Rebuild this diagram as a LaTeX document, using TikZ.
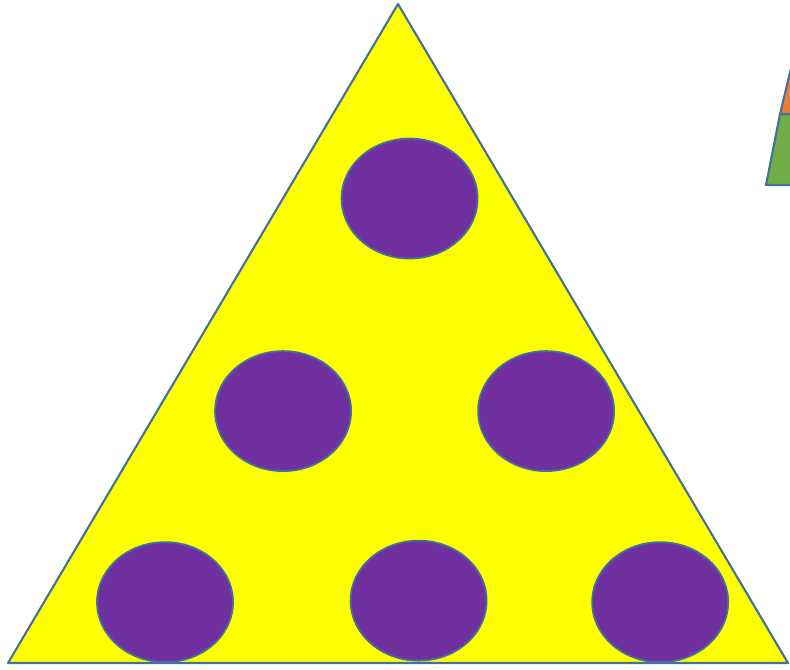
\documentclass[tikz,border=0pt]{standalone}
\usepackage{xcolor}
\usepackage{tikz}
\usetikzlibrary{shapes.geometric}

\definecolor{edgeblue}{HTML}{41719C}
\definecolor{dotpurple}{HTML}{7030A0}
\definecolor{topyellow}{HTML}{FFFF00}
\definecolor{sideorange}{HTML}{ED7D31}
\definecolor{sidegreen}{HTML}{70AD47}

\begin{document}
\begin{tikzpicture}[every node/.style={ellipse,draw=edgeblue,line width=1pt,fill=dotpurple,minimum width=2.72cm,minimum height=2.4cm,inner sep=0pt}]
  \clip (0,0) rectangle (15.8,-13.38);
  % big triangle
  \coordinate (apex) at (7.96,-0.08);
  \coordinate (baseL) at (0.16,-13.26);
  \coordinate (baseR) at (15.76,-13.26);
  \filldraw[fill=topyellow,draw=edgeblue,line width=1.2pt,line join=round]
    (apex) -- (baseL) -- (baseR) -- cycle;
  % dots
  \foreach \name/\c/\r in {top/409.5/198.5,
                           midL/283/411,midR/546/411,
                           botL/165/602,botM/418.5/600.5,botR/660/602}{
    \pgfmathsetmacro{\x}{\c*0.02}
    \pgfmathsetmacro{\y}{-\r*0.02}
    \node (\name) at (\x,\y) {};
  }
  % pieces at the right edge
  \filldraw[fill=sidegreen,draw=edgeblue,line width=1.2pt,line join=round]
    (15.6,-2.28) -- (15.32,-3.7) -- (16.6,-3.7) -- (16.4,-2.28) -- cycle;
  \filldraw[fill=sideorange,draw=edgeblue,line width=1.2pt,line join=round]
    (15.86,-1.2) -- (15.6,-2.28) -- (16.4,-2.28) -- cycle;
\end{tikzpicture}
\end{document}
